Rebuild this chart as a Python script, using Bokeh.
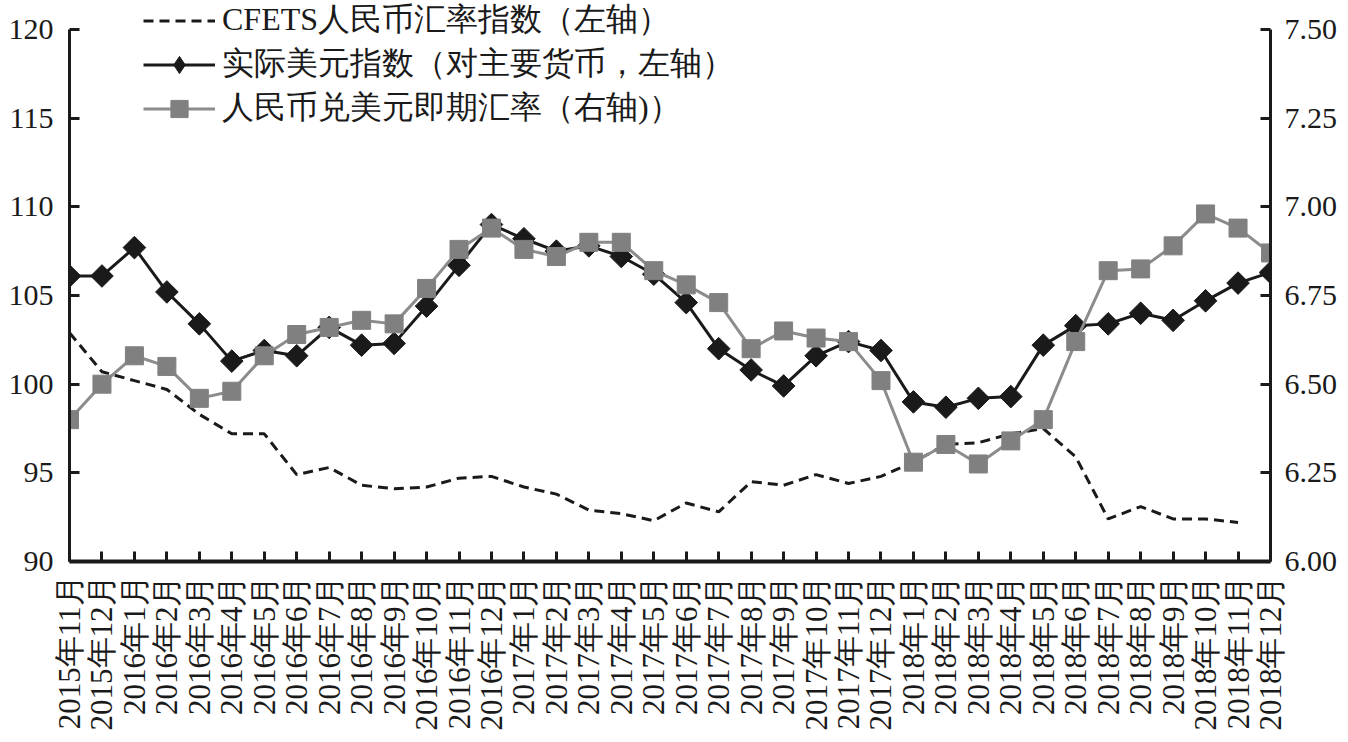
from bokeh.plotting import figure
from bokeh.models import Range1d, LinearAxis, FixedTicker, Legend, LegendItem, ColumnDataSource
from bokeh.embed import file_html
from bokeh.resources import INLINE
import math

months = ["2015年11月", "2015年12月",
          "2016年1月", "2016年2月", "2016年3月", "2016年4月", "2016年5月", "2016年6月",
          "2016年7月", "2016年8月", "2016年9月", "2016年10月", "2016年11月", "2016年12月",
          "2017年1月", "2017年2月", "2017年3月", "2017年4月", "2017年5月", "2017年6月",
          "2017年7月", "2017年8月", "2017年9月", "2017年10月", "2017年11月", "2017年12月",
          "2018年1月", "2018年2月", "2018年3月", "2018年4月", "2018年5月", "2018年6月",
          "2018年7月", "2018年8月", "2018年9月", "2018年10月", "2018年11月", "2018年12月"]

cfets = [102.9, 100.7, 100.2, 99.7, 98.3, 97.2, 97.2, 94.9, 95.3, 94.3, 94.1, 94.2,
         94.7, 94.8, 94.2, 93.8, 92.9, 92.7, 92.3, 93.3, 92.8, 94.5, 94.3, 94.9,
         94.4, 94.8, 95.6, 96.6, 96.7, 97.2, 97.5, 95.9, 92.4, 93.1, 92.4, 92.4,
         92.2, float("nan")]

usd_index = [106.1, 106.1, 107.7, 105.2, 103.4, 101.3, 101.9, 101.6, 103.2, 102.2, 102.3, 104.4,
             106.7, 109.0, 108.2, 107.5, 107.8, 107.2, 106.2, 104.6, 102.0, 100.8, 99.9, 101.6,
             102.4, 101.9, 99.0, 98.7, 99.2, 99.3, 102.2, 103.3, 103.4, 104.0, 103.6, 104.7,
             105.7, 106.3]

cny_usd = [6.40, 6.50, 6.58, 6.55, 6.46, 6.48, 6.58, 6.64, 6.66, 6.68, 6.67, 6.77,
           6.88, 6.94, 6.88, 6.86, 6.90, 6.90, 6.82, 6.78, 6.73, 6.60, 6.65, 6.63,
           6.62, 6.51, 6.28, 6.33, 6.275, 6.34, 6.40, 6.62, 6.82, 6.825, 6.89, 6.98,
           6.94, 6.87]

left_ticks = [90, 95, 100, 105, 110, 115, 120]
right_ticks = [6.00, 6.25, 6.50, 6.75, 7.00, 7.25, 7.50]

legend_labels = ["CFETS人民币汇率指数（左轴）", "实际美元指数（对主要货币，左轴）", "人民币兑美元即期汇率（右轴)）"]

x = list(range(len(months)))
src = ColumnDataSource(dict(x=x, cfets=cfets, usd=usd_index, cny=cny_usd))
# off-range stand-in so the legend can show an upright diamond
legend_src = ColumnDataSource(dict(x=[-1000], y=[-1000]))

SERIF = "Liberation Serif"
BLACK = "#1a1a1a"

# frame reaches the figure top so the legend above the 120 line is not clipped;
# the axes are bounded to the tick span
FRAME_H = 561
lo, hi = left_ticks[0], left_ticks[-1]
top_pad = 29 / (FRAME_H - 29) * (hi - lo)
rlo, rhi = right_ticks[0], right_ticks[-1]
rtop_pad = 29 / (FRAME_H - 29) * (rhi - rlo)

p = figure(width=1340, height=734, output_backend="svg", toolbar_location=None,
           x_range=Range1d(0, len(months) - 1), y_range=Range1d(lo, hi + top_pad),
           min_border_left=69, min_border_right=68, min_border_top=0, min_border_bottom=173)
p.outline_line_color = None
p.xgrid.visible = False
p.ygrid.visible = False
p.background_fill_color = "white"

p.extra_y_ranges = {"r": Range1d(rlo, rhi + rtop_pad)}

def style_axis(ax, size):
    ax.axis_line_width = 3
    ax.axis_line_color = BLACK
    ax.major_tick_line_width = 3
    ax.major_tick_line_color = BLACK
    ax.major_tick_in = 10
    ax.major_tick_out = 0
    ax.minor_tick_line_color = None
    ax.major_label_text_font = SERIF
    ax.major_label_text_font_size = size
    ax.major_label_text_color = BLACK

xa = p.xaxis[0]
style_axis(xa, "31px")
xa.axis_line_width = 4
xa.ticker = FixedTicker(ticks=x)
xa.major_label_overrides = {i: m for i, m in zip(x, months)}
xa.major_label_orientation = math.pi / 2
xa.major_label_standoff = 14

ya = p.yaxis[0]
style_axis(ya, "30px")
ya.ticker = FixedTicker(ticks=left_ticks)
ya.bounds = (lo, hi)
ya.major_label_standoff = 16

ra = LinearAxis(y_range_name="r")
style_axis(ra, "30px")
ra.ticker = FixedTicker(ticks=right_ticks)
ra.bounds = (rlo, rhi)
ra.major_label_overrides = {t: f"{t:.2f}" for t in right_ticks}
ra.major_label_standoff = 14
p.add_layout(ra, "right")

r_cfets = p.line("x", "cfets", source=src, line_color=BLACK, line_width=3, line_dash="10 6")

r_usd_line = p.line("x", "usd", source=src, line_color=BLACK, line_width=3)
r_usd_pts = p.scatter("x", "usd", source=src, marker="square", angle=math.pi / 4, size=16,
                      fill_color=BLACK, line_color=BLACK)
r_usd_leg = p.scatter("x", "y", source=legend_src, marker="diamond", size=28,
                      fill_color=BLACK, line_color=BLACK)

r_cny_line = p.line("x", "cny", source=src, y_range_name="r", line_color="#8c8c8c", line_width=3)
r_cny_pts = p.scatter("x", "cny", source=src, y_range_name="r", marker="square", size=18,
                      fill_color="#808080", line_color="#808080")

legend = Legend(items=[
    LegendItem(label=legend_labels[0], renderers=[r_cfets]),
    LegendItem(label=legend_labels[1], renderers=[r_usd_line, r_usd_leg]),
    LegendItem(label=legend_labels[2], renderers=[r_cny_line, r_cny_pts]),
], location=(74, 431))
legend.glyph_width = 72
legend.glyph_height = 43
legend.spacing = 0
legend.padding = 0
legend.margin = 0
legend.label_standoff = 7
legend.label_text_font = SERIF
legend.label_text_font_size = "32px"
legend.label_text_color = BLACK
legend.border_line_color = None
legend.background_fill_alpha = 0
p.add_layout(legend, "center")

open("out.html", "w").write(file_html(p, INLINE))
